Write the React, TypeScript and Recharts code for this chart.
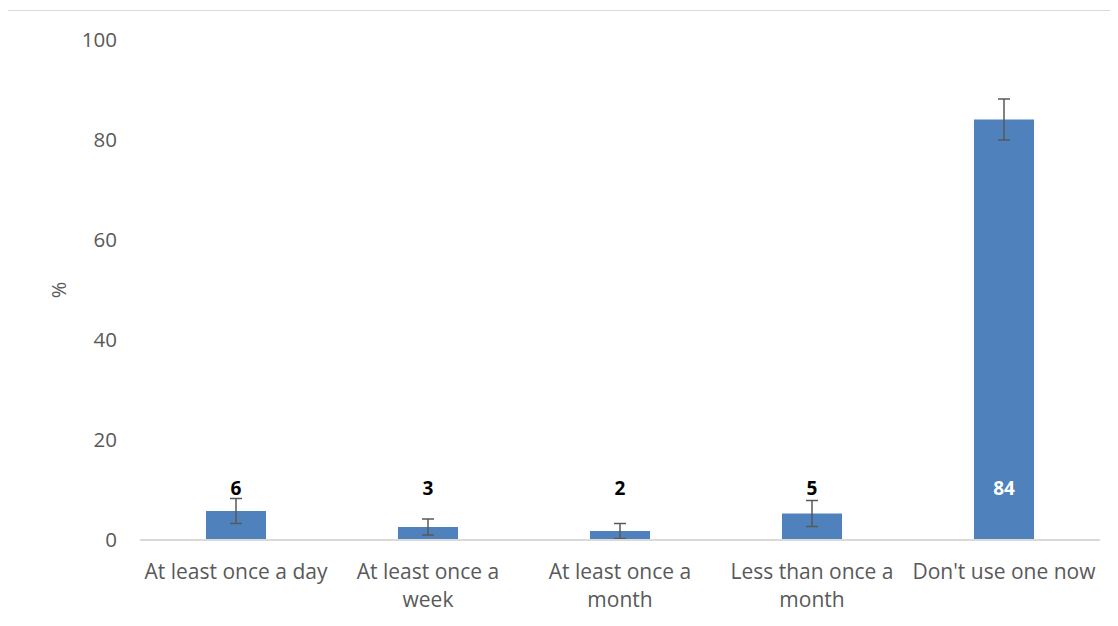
import React from 'react';
import { BarChart, Bar, XAxis, YAxis, ErrorBar, LabelList } from 'recharts';

const categories = [
  'At least once a day',
  'At least once a week',
  'At least once a month',
  'Less than once a month',
  "Don't use one now",
];
const percentages = [5.8, 2.6, 1.8, 5.3, 84.1];
const errorMargins = [2.5, 1.6, 1.5, 2.6, 4.1];
const yTicks = [0, 20, 40, 60, 80, 100];

const data = categories.map((name, i) => ({
  name,
  value: percentages[i],
  err: errorMargins[i],
}));

const FONT = '"Open Sans", "Noto Sans", sans-serif';
const TICK_FONT_SIZE = 21;

// greedy word wrap measured with a canvas, like Excel wraps category labels
let ctx: CanvasRenderingContext2D | null = null;
const wrapWords = (label: string, maxWidth: number): string[] => {
  if (!ctx) {
    ctx = document.createElement('canvas').getContext('2d');
  }
  if (!ctx) return [label];
  ctx.font = `${TICK_FONT_SIZE}px "Open Sans"`;
  const lines: string[] = [];
  let current = '';
  label.split(' ').forEach((word) => {
    const test = current ? `${current} ${word}` : word;
    if (current && ctx!.measureText(test).width > maxWidth) {
      lines.push(current);
      current = word;
    } else {
      current = test;
    }
  });
  if (current) lines.push(current);
  return lines;
};

const CategoryTick = (props: any) => {
  const { x, y, payload } = props;
  const lines = wrapWords(payload.value, 190);
  return (
    <text
      x={x}
      y={y}
      textAnchor="middle"
      fill="#595959"
      fontSize={TICK_FONT_SIZE}
      fontFamily={FONT}
    >
      {lines.map((line, i) => (
        <tspan key={i} x={x} dy={i === 0 ? '0.71em' : 28}>
          {line}
        </tspan>
      ))}
    </text>
  );
};

// labels sit at a fixed height above the axis, white on the tall bar
const ValueLabel = (props: any) => {
  const { x, y, width, height, value } = props;
  const bottom = y + height;
  const inside = height > 100;
  return (
    <text
      x={x + width / 2}
      y={bottom - 52}
      textAnchor="middle"
      dominantBaseline="central"
      fontFamily={FONT}
      fontWeight="bold"
      fontSize={19}
      fill={inside ? '#ffffff' : '#000000'}
    >
      {Math.round(value)}
    </text>
  );
};

const AxisTitle = (props: any) => {
  const { viewBox } = props;
  const cx = viewBox.x + 50;
  const cy = viewBox.y + viewBox.height / 2;
  return (
    <text
      x={cx}
      y={cy}
      transform={`rotate(-90 ${cx} ${cy})`}
      textAnchor="middle"
      dominantBaseline="central"
      fontFamily={FONT}
      fontSize={20}
      fill="#595959"
    >
      %
    </text>
  );
};

const App: React.FC = () => {
  return (
    <div
      style={{
        marginLeft: -1,
        marginTop: 2,
        width: 1110,
        height: 614,
        borderLeft: '1px solid #d9d9d9',
        borderTop: '1px solid #d9d9d9',
        overflow: 'hidden',
      }}
    >
      <BarChart
        width={1100}
        height={612}
        data={data}
        margin={{ top: 29, right: 8, bottom: 23, left: 0 }}
      >
        <YAxis
          width={132}
          domain={[0, 100]}
          ticks={yTicks}
          axisLine={false}
          tickLine={false}
          tickSize={0}
          tickMargin={23}
          tick={{ fill: '#595959', fontSize: 20.5, fontFamily: FONT }}
          label={{ content: AxisTitle }}
        />
        <XAxis
          dataKey="name"
          height={60}
          axisLine={{ stroke: '#d9d9d9', strokeWidth: 2 }}
          tickLine={false}
          tickSize={0}
          tickMargin={24}
          interval={0}
          tick={<CategoryTick />}
        />
        <Bar dataKey="value" fill="#4f81bd" barSize={60} isAnimationActive={false}>
          <ErrorBar dataKey="err" width={6} stroke="#595959" strokeWidth={1.5} />
          <LabelList dataKey="value" content={<ValueLabel />} />
        </Bar>
      </BarChart>
    </div>
  );
};

export default App;
